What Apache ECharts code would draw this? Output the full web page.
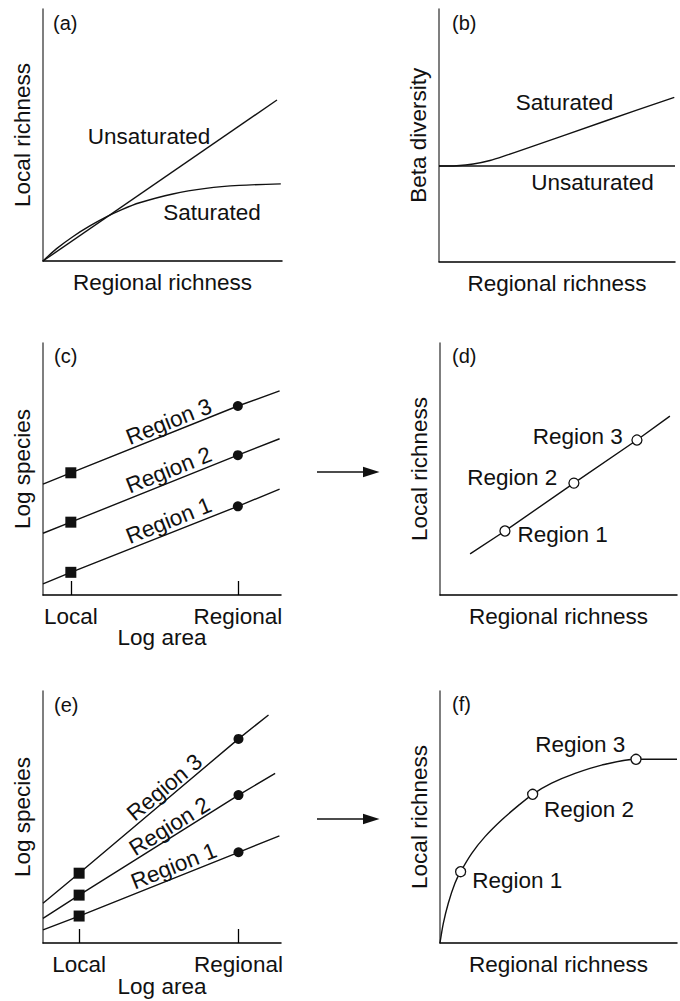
<!DOCTYPE html>
<html>
<head>
<meta charset="utf-8">
<title>Local and regional richness</title>
<script src="https://cdn.jsdelivr.net/npm/echarts@6/dist/echarts.min.js"></script>
<style>
  html, body { margin: 0; padding: 0; background: #fff; }
  #chart { width: 680px; height: 1001px; }
</style>
</head>
<body>
<div id="chart"></div>
<script>
// ---------- data ----------
// (a) local richness against regional richness
const aUnsaturated = [[0, 0], [97.9, 63.9]];
const aSaturated = [[0, 0], [5.7, 4.9], [12.6, 9.73], [19.6, 13.9], [26.5, 17.5], [33, 20.4],
                    [40.4, 23.1], [54.3, 26.6], [68.2, 28.8], [82.1, 30.0], [99.5, 30.6]];

// (b) beta diversity against regional richness
const bUnsaturated = [[0, 37.8], [100, 37.8]];
const bSaturated = [[0, 37.8], [7.5, 37.95], [14.5, 38.6], [21.6, 40.0], [28.7, 42.1],
                    [35, 44.1], [71.1, 55.85], [99.7, 65.0]];

// shared names
const regionNames = ['Region 1', 'Region 2', 'Region 3'];
const areaTickLabels = ['Local', 'Regional'];
const areaTickValues = [1, 7];

// (c) species-area lines with equal slopes (log species)
const cStartX = [0, 0, 0];
const cStartY = [0.44, 2.45, 4.40];
const cLocal = [0.90, 2.89, 4.85];
const cRegional = [3.52, 5.55, 7.50];
const cEndX = [8.5, 8.5, 8.5];
const cEndY = [4.20, 6.20, 8.10];

// (d) local against regional richness, linear
const dLineStart = [1.27, 1.63];
const dLineEnd = [9.70, 7.10];
const dRegional = [2.74, 5.65, 8.31];
const dLocal = [2.54, 4.44, 6.15];

// (e) species-area lines with diverging slopes (log species)
const eStartX = [-0.36, -0.36, -0.36];
const eStartY = [0.52, 0.98, 1.58];
const eLocal = [1.07, 1.90, 2.77];
const eRegional = [3.60, 5.87, 8.10];
const eEndX = [8.54, 8.38, 8.13];
const eEndY = [4.25, 6.73, 9.05];

// (f) local against regional richness, saturating
const fCurve = [[0, 0], [0.14, 0.78], [0.35, 1.58], [0.63, 2.37], [0.87, 2.83], [1.34, 3.56],
                [1.90, 4.22], [2.60, 4.88], [3.30, 5.45], [3.91, 5.90], [4.71, 6.34],
                [5.70, 6.73], [6.82, 7.06], [8.27, 7.29], [10.0, 7.29]];
const fRegional = [0.87, 3.91, 8.27];
const fLocal = [2.83, 5.90, 7.29];

// ---------- styling ----------
const FONT = '"Liberation Sans", Arial, Helvetica, sans-serif';
const INK = '#111';
const FS = 22.5;
const TEXT = { fontFamily: FONT, fontSize: FS, color: INK };
const CURVE = { color: INK, width: 1.4 };

const panels = [
  { grid: { left: 43, top: 9, width: 239, height: 252 }, x: [0, 100], y: [0, 100],
    xName: 'Regional richness', yName: 'Local richness', xGap: 10.2 },
  { grid: { left: 439, top: 9, width: 236, height: 252.5 }, x: [0, 100], y: [0, 100],
    xName: 'Regional richness', yName: 'Beta diversity', xGap: 10.2 },
  { grid: { left: 43, top: 343, width: 238, height: 252 }, x: [0, 8.55], y: [0, 10],
    xName: 'Log area', yName: 'Log species', xGap: 30.5, ticks: true },
  { grid: { left: 440, top: 343, width: 237, height: 252 }, x: [0, 10], y: [0, 10],
    xName: 'Regional richness', yName: 'Local richness', xGap: 10.2 },
  { grid: { left: 43, top: 691, width: 238, height: 252 }, x: [-0.36, 8.6], y: [0, 10],
    xName: 'Log area', yName: 'Log species', xGap: 32, ticks: true },
  { grid: { left: 440, top: 691, width: 237, height: 252 }, x: [0, 10], y: [0, 10],
    xName: 'Regional richness', yName: 'Local richness', xGap: 10.2 }
];

const chart = echarts.init(document.getElementById('chart'), null, { renderer: 'svg' });

function tickLabel(v) {
  const i = areaTickValues.findIndex(t => Math.abs(t - v) < 1e-6);
  return i >= 0 ? areaTickLabels[i] : '';
}

const grid = panels.map(p => Object.assign({ outerBoundsMode: 'none', containLabel: false }, p.grid));

const xAxis = panels.map((p, i) => ({
  type: 'value', gridIndex: i, min: p.x[0], max: p.x[1],
  axisLine: { show: true, onZero: false, lineStyle: { color: '#000', width: 1.5 } },
  axisTick: p.ticks
    ? { show: true, inside: true, length: 14, customValues: areaTickValues,
        lineStyle: { color: '#000', width: 1.3 } }
    : { show: false },
  axisLabel: p.ticks
    ? Object.assign({ show: true, customValues: areaTickValues, margin: 9.8, formatter: tickLabel }, TEXT)
    : { show: false },
  splitLine: { show: false },
  name: p.xName, nameLocation: 'middle', nameGap: p.xGap, nameMoveOverlap: false,
  nameTextStyle: Object.assign({}, TEXT)
}));

const yAxis = panels.map((p, i) => ({
  type: 'value', gridIndex: i, min: p.y[0], max: p.y[1],
  axisLine: { show: true, onZero: false, lineStyle: { color: '#555', width: 1.5 } },
  axisTick: { show: false },
  axisLabel: { show: false },
  splitLine: { show: false },
  name: p.yName, nameLocation: 'middle', nameGap: 9.2, nameRotate: 90, nameMoveOverlap: false,
  nameTextStyle: Object.assign({}, TEXT)
}));

function curve(idx, data, smooth) {
  return { type: 'line', xAxisIndex: idx, yAxisIndex: idx, data, smooth: smooth || false,
           showSymbol: false, symbol: 'none', silent: true, lineStyle: CURVE, z: 2 };
}

function dots(idx, data, symbol, size, open) {
  return { type: 'scatter', xAxisIndex: idx, yAxisIndex: idx, data, symbol, symbolSize: size,
           silent: true, z: 4,
           itemStyle: open
             ? { color: '#fff', borderColor: INK, borderWidth: 1.3, opacity: 1 }
             : { color: INK, opacity: 1 } };
}

const series = [];
// (a)
series.push(curve(0, aUnsaturated));
series.push(curve(0, aSaturated, 0.3));
// (b)
series.push(curve(1, bUnsaturated));
series.push(curve(1, bSaturated, 0.3));

// (c) and (e): one straight line per region, local squares, regional dots
function areaLines(idx, sx, sy, loc, reg, ex, ey) {
  regionNames.forEach((n, r) => {
    series.push(curve(idx, [[sx[r], sy[r]], [areaTickValues[0], loc[r]],
                            [areaTickValues[1], reg[r]], [ex[r], ey[r]]]));
  });
  series.push(dots(idx, loc.map(v => [areaTickValues[0], v]), 'rect', 11));
  series.push(dots(idx, reg.map(v => [areaTickValues[1], v]), 'circle', 10));
}
areaLines(2, cStartX, cStartY, cLocal, cRegional, cEndX, cEndY);
areaLines(4, eStartX, eStartY, eLocal, eRegional, eEndX, eEndY);

// (d)
const dLabelPlace = [
  { position: 'right', distance: 7, offset: [0, 3.5] },
  { position: 'left', distance: 11, offset: [0, -6] },
  { position: 'left', distance: 8.5, offset: [0, -3.5] }
];
series.push(curve(3, [dLineStart].concat(dRegional.map((x, r) => [x, dLocal[r]])).concat([dLineEnd])));
series.push(dots(3, dRegional.map((x, r) => ({
  value: [x, dLocal[r]], name: regionNames[r],
  label: Object.assign({ show: true, formatter: '{b}' }, TEXT, dLabelPlace[r])
})), 'circle', 10, true));

// (f)
const fLabelPlace = [
  { position: 'right', distance: 6, offset: [0, 9] },
  { position: 'right', distance: 5.6, offset: [0, 15] },
  { position: 'left', distance: 5, offset: [0, -15] }
];
series.push(curve(5, fCurve, 0.3));
series.push(dots(5, fRegional.map((x, r) => ({
  value: [x, fLocal[r]], name: regionNames[r],
  label: Object.assign({ show: true, formatter: '{b}' }, TEXT, fLabelPlace[r])
})), 'circle', 10, true));

chart.setOption({
  animation: false,
  backgroundColor: '#fff',
  grid, xAxis, yAxis, series
});

// ---------- annotations ----------
const graphic = [];
function text(str, x, y, size, align) {
  graphic.push({ type: 'text', x, y, silent: true, z: 10,
    style: { text: str, font: size + 'px ' + FONT, fill: INK,
             align: align || 'center', verticalAlign: 'middle',
             textAlign: align || 'center', textVerticalAlign: 'middle' } });
}

// panel letters
text('(a)', 53, 23, 20, 'left');
text('(b)', 452, 23, 20, 'left');
text('(c)', 54, 356, 20, 'left');
text('(d)', 452, 356, 20, 'left');
text('(e)', 54, 704.5, 20, 'left');
text('(f)', 452, 704, 20, 'left');

// curve names in (a) and (b)
text('Unsaturated', 149, 136.5, FS);
text('Saturated', 212, 212, FS);
text('Saturated', 564.5, 102, FS);
text('Unsaturated', 592.5, 182.5, FS);

// region names written along the species-area lines
function alongLine(gridIndex, p0, p1, t, gap, str) {
  const a = chart.convertToPixel({ gridIndex }, p0);
  const b = chart.convertToPixel({ gridIndex }, p1);
  const dx = b[0] - a[0], dy = b[1] - a[1];
  const len = Math.hypot(dx, dy);
  const nx = dy / len, ny = -dx / len;
  graphic.push({ type: 'text', silent: true, z: 10,
    x: a[0] + t * dx + gap * nx, y: a[1] + t * dy + gap * ny,
    rotation: Math.atan2(-dy, dx),
    style: { text: str, font: FS + 'px ' + FONT, fill: INK,
             align: 'center', verticalAlign: 'middle',
             textAlign: 'center', textVerticalAlign: 'middle' } });
}
regionNames.forEach((n, r) => {
  alongLine(2, [cStartX[r], cStartY[r]], [cEndX[r], cEndY[r]], 0.55, 12, n);
  alongLine(4, [eStartX[r], eStartY[r]], [eEndX[r], eEndY[r]], 0.57, 11, n);
});

// arrows linking the species-area panels to the richness panels
function arrow(y) {
  graphic.push({ type: 'line', silent: true, shape: { x1: 317, y1: y, x2: 366, y2: y },
                 style: { stroke: INK, lineWidth: 1.4 } });
  graphic.push({ type: 'polygon', silent: true,
                 shape: { points: [[363, y - 5.3], [379.5, y], [363, y + 5.3]] },
                 style: { fill: INK } });
}
arrow(472);
arrow(819);

chart.setOption({ graphic });
</script>
</body>
</html>
